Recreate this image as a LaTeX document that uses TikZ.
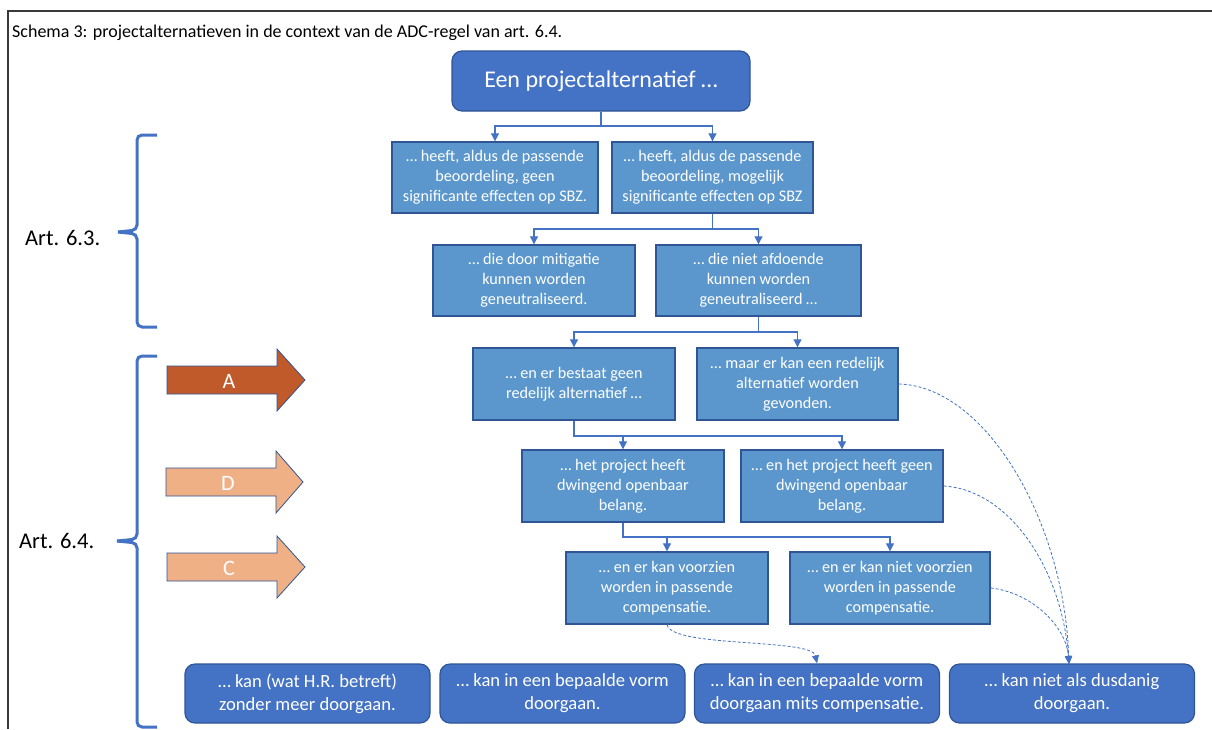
\documentclass[tikz,border=0pt]{standalone}
\usepackage{fontspec}
\setmainfont{Carlito}
\usetikzlibrary{arrows.meta}
\definecolor{dblue}{HTML}{4472C4}
\definecolor{mblue}{HTML}{5B97CD}
\definecolor{bordb}{HTML}{2F5597}
\definecolor{lineb}{HTML}{4472C4}
\definecolor{orA}{HTML}{C05A2B}
\definecolor{orD}{HTML}{EFB086}
\definecolor{frame}{HTML}{3A3A3A}
\tikzset{
  mid/.style={draw=bordb, line width=1.4pt, fill=mblue, text=white, minimum height=71pt,
    inner sep=0pt, align=center, font=\fontsize{16.2}{20}\selectfont},
  rbox/.style={draw=bordb, line width=1.2pt, fill=dblue, rounded corners=10pt, text=white,
    align=center, inner sep=0pt},
  botbox/.style={rbox, minimum width=245pt, minimum height=59pt, font=\fontsize{18.6}{23}\selectfont},
  conn/.style={draw=lineb, line width=1.1pt, -{Triangle[length=8pt,width=8pt]}},
  dconn/.style={draw=lineb, line width=0.8pt, dash pattern=on 3pt off 2pt, -{Triangle[length=8pt,width=7pt]}},
  brc/.style={draw=dblue, line width=3pt, rounded corners=5pt},
  barrow/.style={draw=bordb, line width=0.8pt},
  alabel/.style={text=white, font=\fontsize{22}{22}\selectfont, inner sep=0pt},
  artlabel/.style={text=black, font=\fontsize{22.5}{22.5}\selectfont, inner sep=0pt, anchor=west},
}
\begin{document}
\begin{tikzpicture}[x=1pt,y=-1pt]
\useasboundingbox (0,0) rectangle (1212,729);
\fill[white] (0,0) rectangle (1212,729);
% frame
\draw[frame, line width=1.8pt] (8,729) -- (8,11) -- (1212,11);
\node[anchor=west, inner sep=0pt, font=\fontsize{18}{18}\selectfont] (title) at (12,33)
  {Schema 3: projectalternatieven in de context van de ADC-regel van art. 6.4.};

% top box
\node[rbox, minimum width=298pt, minimum height=60pt, font=\fontsize{24}{24}\selectfont] (top) at (601,81) {Een projectalternatief …};

% rows
\node[mid, minimum width=206pt] (r1a) at (495,177.5) {… heeft, aldus de passende\\beoordeling, geen\\significante effecten op SBZ.};
\node[mid, minimum width=201pt] (r1b) at (712.5,177.5) {… heeft, aldus de passende\\beoordeling, mogelijk\\significante effecten op SBZ};
\node[mid, minimum width=202pt] (r2a) at (534,280.5) {… die door mitigatie\\kunnen worden\\geneutraliseerd.};
\node[mid, minimum width=205pt] (r2b) at (758.5,280.5) {… die niet afdoende\\kunnen worden\\geneutraliseerd …};
\node[mid, minimum width=202pt, minimum height=72pt] (r3a) at (574,384) {… en er bestaat geen\\redelijk alternatief …};
\node[mid, minimum width=201pt, minimum height=72pt] (r3b) at (797.5,384) {… maar er kan een redelijk\\alternatief worden\\gevonden.};
\node[mid, minimum width=202pt, minimum height=72pt] (r4a) at (623,486) {… het project heeft\\dwingend openbaar\\belang.};
\node[mid, minimum width=202pt, minimum height=72pt] (r4b) at (842,486) {… en het project heeft geen\\dwingend openbaar\\belang.};
\node[mid, minimum width=202pt, minimum height=72pt] (r5a) at (667,588) {… en er kan voorzien\\worden in passende\\compensatie.};
\node[mid, minimum width=200pt, minimum height=72pt] (r5b) at (890,588) {… en er kan niet voorzien\\worden in passende\\compensatie.};

% bottom boxes
\node[botbox] (b1) at (307.5,693.5) {… kan (wat H.R. betreft)\\zonder meer doorgaan.};
\node[botbox] (b2) at (562.5,693.5) {… kan in een bepaalde vorm\\doorgaan.};
\node[botbox] (b3) at (817,693.5) {… kan in een bepaalde vorm\\doorgaan mits compensatie.};
\node[botbox] (b4) at (1072,693.5) {… kan niet als dusdanig\\doorgaan.};

% elbow connectors
\coordinate (j1) at (601,126);
\draw[conn] (top.south) -- (j1) -| (r1a.north);
\draw[conn] (j1) -| (r1b.north);
\coordinate (j2) at (712.5,229);
\draw[conn] (r1b.south) -- (j2) -| (r2a.north);
\draw[conn] (j2) -| (r2b.north);
\coordinate (j3) at (758.5,332);
\draw[conn] (r2b.south) -- (j3) -| (r3a.north);
\draw[conn] (j3) -| (r3b.north);
\coordinate (j4) at (574,436);
\draw[conn] (r3a.south) -- (j4) -| (r4a.north);
\draw[conn] (j4) -| (r4b.north);
\coordinate (j5) at (623,537);
\draw[conn] (r4a.south) -- (j5) -| (r5a.north);
\draw[conn] (j5) -| (r5b.north);

% dashed curves
\coordinate (t4) at (1069,664);
\draw[dconn] (r3b.east) .. controls (985,386) and (1064,520) .. (t4);
\draw[dconn] (r4b.east) .. controls (1010,490) and (1062,570) .. (t4);
\draw[dconn] (r5b.east) .. controls (1030,592) and (1066,625) .. (t4);
\draw[dconn] (r5a.south) .. controls (672,648) and (812,638) .. (b3.north);

% braces
\draw[brc] (157,135) -- (137,135) -- (137,230) -- (118,232);
\draw[brc] (157,327) -- (137,327) -- (137,234) -- (118,232);
\draw[brc] (157,356) -- (137,356) -- (137,539) -- (117,541);
\draw[brc] (157,727) -- (137,727) -- (137,543) -- (117,541);
\node[artlabel] (art3) at (25,238) {Art. 6.3.};
\node[artlabel] (art4) at (19,541) {Art. 6.4.};

% big arrows
\filldraw[barrow, fill=orA] (167,366) -- (277,366) -- (277,349) -- (305,380) -- (277,411) -- (277,394) -- (167,394) -- cycle;
\node[alabel] (la) at (229,381) {A};
\filldraw[barrow, fill=orD] (166,468) -- (276,468) -- (276,451) -- (303,482) -- (276,513) -- (276,496) -- (166,496) -- cycle;
\node[alabel] (ld) at (228,483) {D};
\filldraw[barrow, fill=orD] (167,553) -- (277,553) -- (277,536) -- (305,567) -- (277,598) -- (277,581) -- (167,581) -- cycle;
\node[alabel] (lc) at (229,568) {C};
\end{tikzpicture}
\end{document}
